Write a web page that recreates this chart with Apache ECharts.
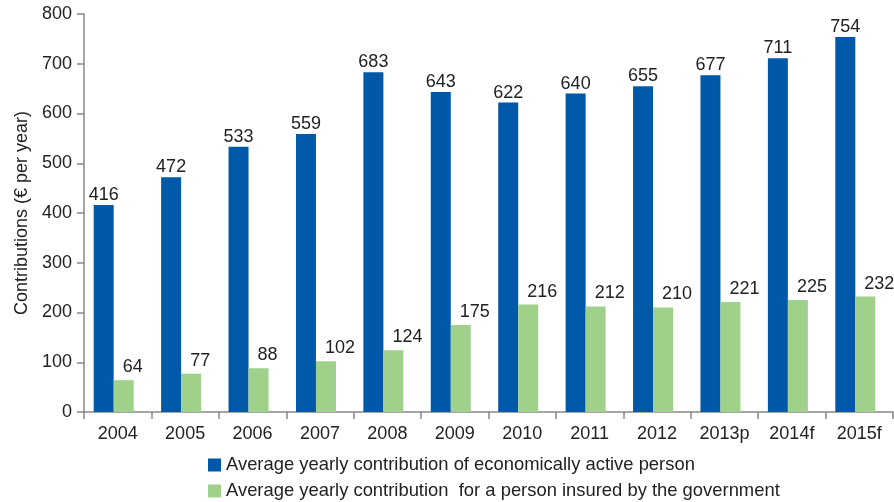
<!DOCTYPE html>
<html>
<head>
<meta charset="utf-8">
<script src="https://cdn.jsdelivr.net/npm/echarts@6/dist/echarts.min.js"></script>
<style>
html,body{margin:0;padding:0;background:#fff;}
#chart{width:894px;height:502px;}
</style>
</head>
<body>
<div id="chart"></div>
<script>
var categories = ['2004','2005','2006','2007','2008','2009','2010','2011','2012','2013p','2014f','2015f'];
var activeValues = [416,472,533,559,683,643,622,640,655,677,711,754];
var insuredValues = [64,77,88,102,124,175,216,212,210,221,225,232];
var seriesNames = ['Average yearly contribution of economically active person','Average yearly contribution  for a person insured by the government'];
var yAxisTitle = 'Contributions (\u20ac per year)';

var FONT = '"Liberation Sans", Arial, Helvetica, sans-serif';
var chart = echarts.init(document.getElementById('chart'), null, {renderer:'canvas'});
var legendText = {fontFamily:FONT, fontSize:18.4, color:'#222'};
chart.setOption({
  animation:false,
  textStyle:{fontFamily:FONT},
  grid:{left:84, right:1, top:14, bottom:90, containLabel:false},
  legend:[
    {orient:'horizontal', left:208, top:456, padding:0, itemWidth:13, itemHeight:13,
     icon:'rect', data:[seriesNames[0]], textStyle:legendText},
    {orient:'horizontal', left:208, top:482, padding:0, itemWidth:13, itemHeight:13,
     icon:'rect', data:[seriesNames[1]], textStyle:legendText}
  ],
  xAxis:{
    type:'category', data:categories,
    axisLine:{lineStyle:{color:'#888', width:1.5}},
    axisTick:{show:true, length:7, lineStyle:{color:'#888', width:1.5}},
    axisLabel:{fontFamily:FONT, fontSize:18, color:'#222', margin:13}
  },
  yAxis:{
    type:'value', min:0, max:800, interval:100,
    name:yAxisTitle, nameLocation:'middle', nameRotate:90, nameGap:52,
    nameTextStyle:{fontFamily:FONT, fontSize:18, color:'#222'},
    axisLine:{show:true, lineStyle:{color:'#888', width:1.5}},
    axisTick:{show:true, length:7, lineStyle:{color:'#888', width:1.5}},
    axisLabel:{fontFamily:FONT, fontSize:18, color:'#222', margin:12},
    splitLine:{show:false}
  },
  series:[
    {name:seriesNames[0], type:'bar', data:activeValues, barWidth:20, barGap:'0%',
     itemStyle:{color:'#0058a8'},
     label:{show:true, position:'top', distance:1, fontFamily:FONT, fontSize:18, color:'#222'}},
    {name:seriesNames[1], type:'bar', data:insuredValues, barWidth:20, barGap:'0%',
     itemStyle:{color:'#9fd18a'},
     label:{show:true, position:'top', distance:4, align:'left', offset:[-1,0], fontFamily:FONT, fontSize:18, color:'#222'}},
    {name:'spacer', type:'bar', data:[], barWidth:8, barGap:'0%', silent:true,
     itemStyle:{color:'rgba(0,0,0,0)'}}
  ]
});
</script>
</body>
</html>
